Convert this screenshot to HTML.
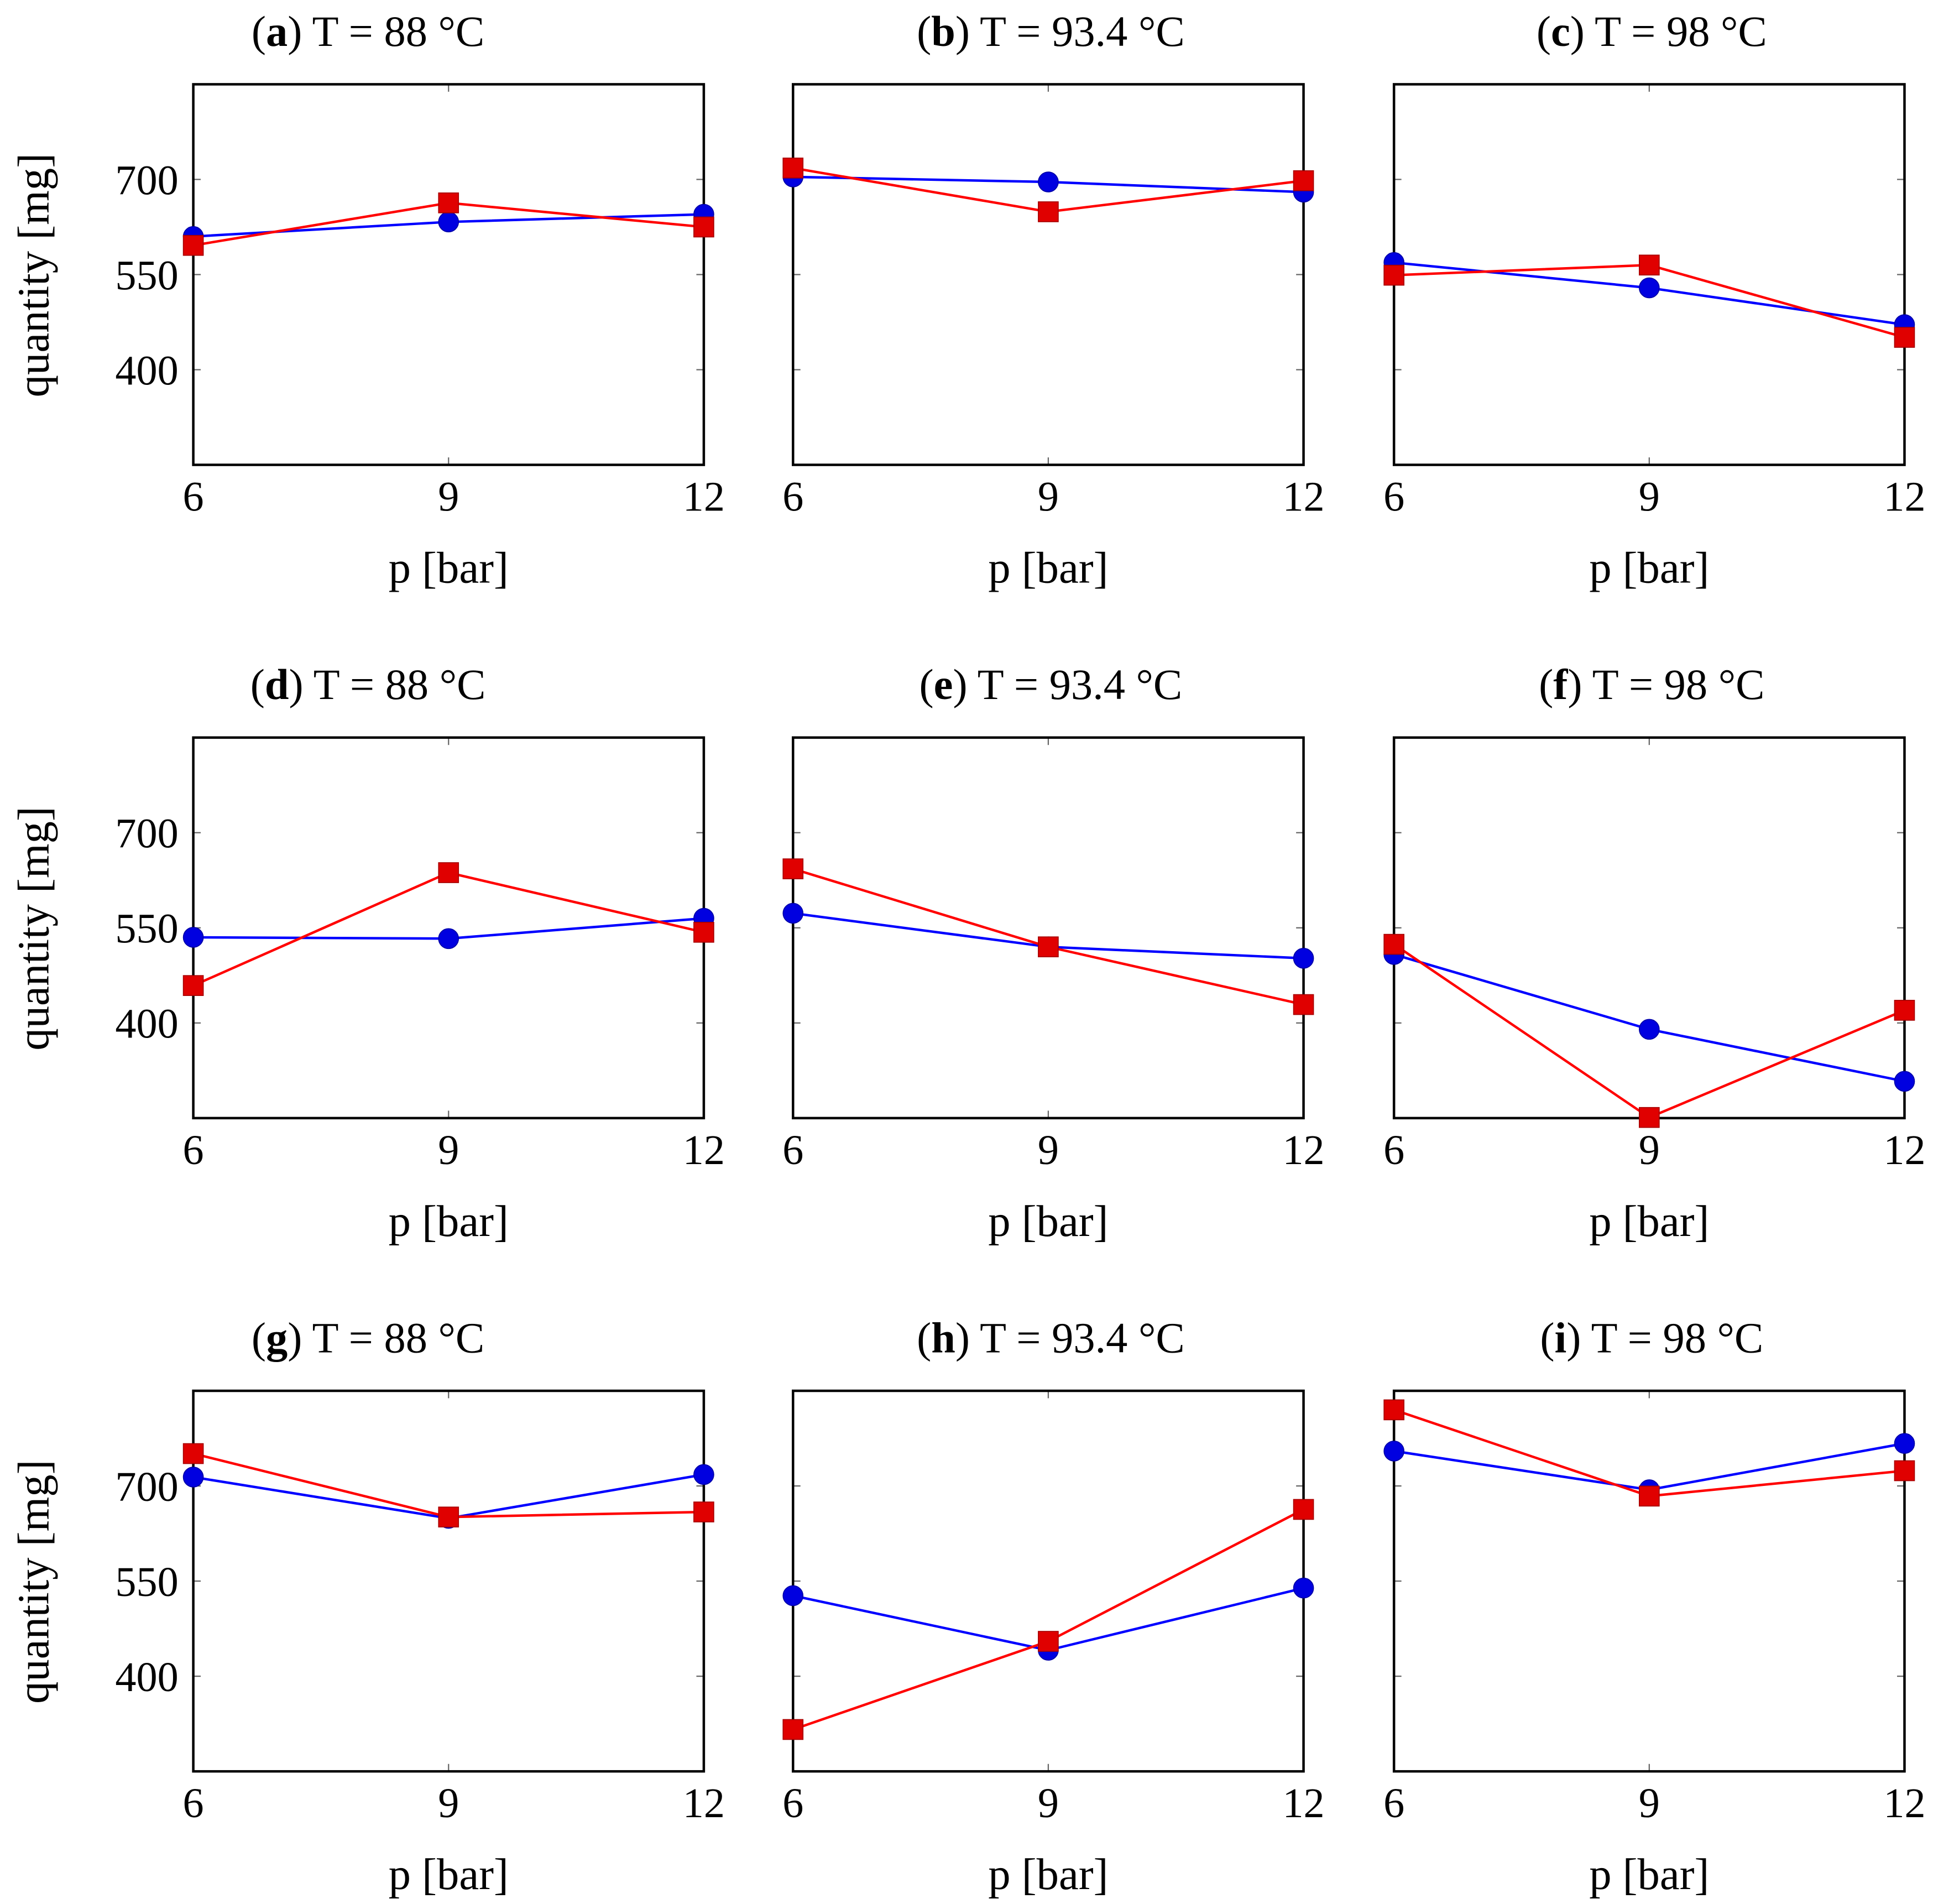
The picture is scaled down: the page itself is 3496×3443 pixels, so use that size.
<!DOCTYPE html>
<html><head><meta charset="utf-8">
<style>
html,body{margin:0;padding:0;background:#fff;}
svg{display:block;}
text{font-family:"Liberation Serif",serif;fill:#000;}
</style></head>
<body>
<svg id="chart" width="3496" height="3443" viewBox="0 0 1560 1536" preserveAspectRatio="none" xmlns="http://www.w3.org/2000/svg"></svg>
<script>
const xCategories = [6, 9, 12];
const yTicks = [400, 550, 700];
const panelLetters = ["a","b","c","d","e","f","g","h","i"];
const panelTemps = ["88","93.4","98","88","93.4","98","88","93.4","98"];
const blueSeries = [
  [610,633,645],[704,696,680],[569,529,471],
  [535,533,565],[573,520,502],[508,390,308],
  [714,649,718],[527,441,539],[755,694,767]
];
const redSeries = [
  [596,663,625],[718,649,698],[549,565,451],
  [459,637,543],[643,520,429],[524,251,420],
  [751,651,659],[316,455,663],[820,684,724]
];
const yMin = 250, yMax = 850;

const svg = document.getElementById('chart');
const NS = "http://www.w3.org/2000/svg";
function mk(tag, attrs, parent){
  const e = document.createElementNS(NS, tag);
  for (const k in attrs) e.setAttribute(k, attrs[k]);
  (parent||svg).appendChild(e);
  return e;
}
const colX = [156, 640, 1125];
const rowY = [68, 595, 1122];
const W = 412, H = 307;

for (let i = 0; i < 9; i++) {
  const c = i % 3, r = Math.floor(i / 3);
  const x0 = colX[c], y0 = rowY[r];
  const g = mk('g', {});
  
  
  const sx = v => x0 + (v - 6) / 6 * W;
  const sy = v => y0 + H - (v - yMin) / (yMax - yMin) * H;

  const tx = c === 0 ? 297 : x0 + W/2 + 2;
  const t = mk('text', {x: tx, y: y0 - 31, 'font-size': 35, 'text-anchor': 'middle'}, g);
  
  
  t.innerHTML = '(<tspan font-weight="bold">' + panelLetters[i] + '</tspan>) T = ' + panelTemps[i] + ' °C';

  yTicks.forEach(v => {
    const y = sy(v);
    mk('line', {x1: x0, x2: x0 + 6, y1: y, y2: y, stroke: '#666', 'stroke-width': 1}, g);
    mk('line', {x1: x0 + W - 6, x2: x0 + W, y1: y, y2: y, stroke: '#666', 'stroke-width': 1}, g);
    if (c === 0) {
      const tl = mk('text', {x: x0 - 12, y: y + 12, 'font-size': 34, 'text-anchor': 'end'}, g);
      
      
      tl.textContent = v;
    }
  });
  xCategories.forEach(v => {
    const x = sx(v);
    mk('line', {x1: x, x2: x, y1: y0 + H, y2: y0 + H - 6, stroke: '#666', 'stroke-width': 1}, g);
    mk('line', {x1: x, x2: x, y1: y0, y2: y0 + 6, stroke: '#666', 'stroke-width': 1}, g);
    const tl = mk('text', {x: x, y: y0 + H + 37, 'font-size': 34, 'text-anchor': 'middle'}, g);
    
    
    tl.textContent = v;
  });

  const fr = mk('rect', {x: x0, y: y0, width: W, height: H, fill: 'none', stroke: '#000', 'stroke-width': 2}, g);
  
  

  const xl = mk('text', {x: x0 + W/2, y: y0 + H + 95, 'font-size': 36, 'text-anchor': 'middle'}, g);
  
  
  xl.textContent = 'p [bar]';

  if (c === 0) {
    const yl = mk('text', {x: 0, y: 0, 'font-size': 36, 'text-anchor': 'middle', transform: 'translate(39,' + (y0 + 154) + ') rotate(-90)'}, g);
    
    
    yl.textContent = 'quantity [mg]';
  }

  const bp = xCategories.map((v, k) => sx(v) + ',' + sy(blueSeries[i][k])).join(' ');
  const bl = mk('polyline', {points: bp, fill: 'none', stroke: '#0000ff', 'stroke-width': 2}, g);
  
  
  const rp = xCategories.map((v, k) => sx(v) + ',' + sy(redSeries[i][k])).join(' ');
  const rl = mk('polyline', {points: rp, fill: 'none', stroke: '#ff0000', 'stroke-width': 2}, g);
  
  

  xCategories.forEach((v, k) => {
    const cc = mk('circle', {cx: sx(v), cy: sy(blueSeries[i][k]), r: 8, fill: '#0000e0', stroke: '#0000aa', 'stroke-width': 0.8}, g);
    
    
  });
  xCategories.forEach((v, k) => {
    const sq = mk('rect', {x: sx(v) - 8, y: sy(redSeries[i][k]) - 8, width: 16, height: 16, fill: '#e00000', stroke: '#aa0000', 'stroke-width': 0.8}, g);
    
    
  });
}
</script>
</body></html>
